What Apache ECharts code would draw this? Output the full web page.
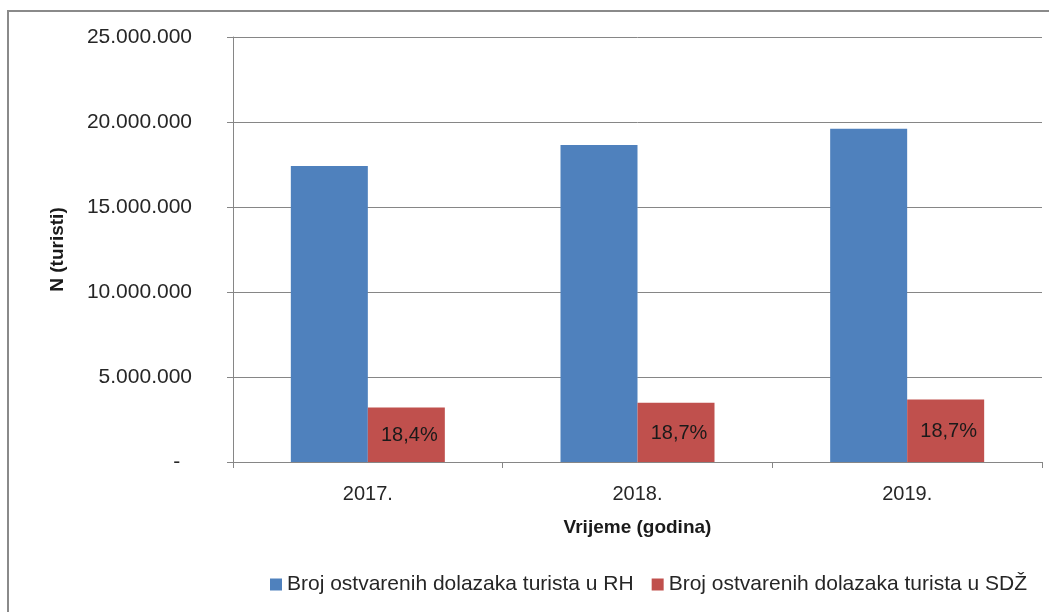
<!DOCTYPE html>
<html>
<head>
<meta charset="utf-8">
<script src="https://cdn.jsdelivr.net/npm/echarts@6/dist/echarts.min.js"></script>
<style>
  html, body { margin: 0; padding: 0; background: #fff; }
  #frame { position: absolute; left: 7px; top: 10px; width: 1100px; height: 700px; border-left: 2px solid #8a8a8a; border-top: 2px solid #8a8a8a; }
  #chart { position: absolute; left: 0; top: 0; width: 1049px; height: 612px; }
</style>
</head>
<body>
<div id="frame"></div>
<div id="chart"></div>
<script>
const categories = ['2017.', '2018.', '2019.'];
const seriesNames = ['Broj ostvarenih dolazaka turista u RH', 'Broj ostvarenih dolazaka turista u SDŽ'];
const arrivalsRH = [17410000, 18650000, 19600000];
const arrivalsSDZ = [3200000, 3490000, 3680000];
const shareLabels = ['18,4%', '18,7%', '18,7%'];
const yTickMax = 25000000;
const yTickStep = 5000000;

function fmt(v) {
  if (v === 0) return '-  ';
  return String(v).replace(/\B(?=(\d{3})+(?!\d))/g, '.');
}

const chart = echarts.init(document.getElementById('chart'), null, { renderer: 'canvas' });
chart.setOption({
  backgroundColor: 'transparent',
  animation: false,
  textStyle: { fontFamily: 'Liberation Sans, Arial, sans-serif' },
  grid: { left: 233, right: 7, top: 37, bottom: 150, containLabel: false },
  legend: {
    left: 265, top: 569,
    itemWidth: 12, itemHeight: 12, itemGap: 18,
    icon: 'rect',
    textStyle: { fontSize: 21, color: '#262626', fontFamily: 'Liberation Sans, Arial, sans-serif' },
    data: seriesNames
  },
  xAxis: {
    type: 'category',
    data: categories,
    name: 'Vrijeme (godina)',
    nameLocation: 'middle',
    nameGap: 56,
    nameTextStyle: { fontSize: 19, fontWeight: 'bold', color: '#1a1a1a' },
    axisLine: { lineStyle: { color: '#868686', width: 1 } },
    axisTick: { show: true, length: 6, lineStyle: { color: '#868686' } },
    axisLabel: { fontSize: 20, color: '#262626', margin: 22 },
    splitLine: { show: false }
  },
  yAxis: {
    type: 'value',
    min: 0, max: yTickMax, interval: yTickStep,
    name: 'N (turisti)',
    nameLocation: 'middle',
    nameGap: 166,
    nameTextStyle: { fontSize: 19, fontWeight: 'bold', color: '#1a1a1a' },
    axisLine: { show: true, lineStyle: { color: '#868686', width: 1 } },
    axisTick: { show: true, length: 6, lineStyle: { color: '#868686' } },
    axisLabel: { fontSize: 21, color: '#262626', margin: 41, formatter: fmt },
    splitLine: { show: true, lineStyle: { color: '#868686', width: 1 } }
  },
  series: [
    {
      name: seriesNames[0], type: 'bar', data: arrivalsRH,
      barWidth: 77, barGap: '0%',
      itemStyle: { color: '#4F81BD' }
    },
    {
      name: seriesNames[1], type: 'bar', data: arrivalsSDZ,
      barWidth: 77, barGap: '0%',
      itemStyle: { color: '#C0504D' },
      label: {
        show: true, position: 'inside', offset: [3, 1],
        fontSize: 20, color: '#1a1a1a',
        formatter: function (p) { return shareLabels[p.dataIndex]; }
      }
    }
  ]
});
</script>
</body>
</html>
